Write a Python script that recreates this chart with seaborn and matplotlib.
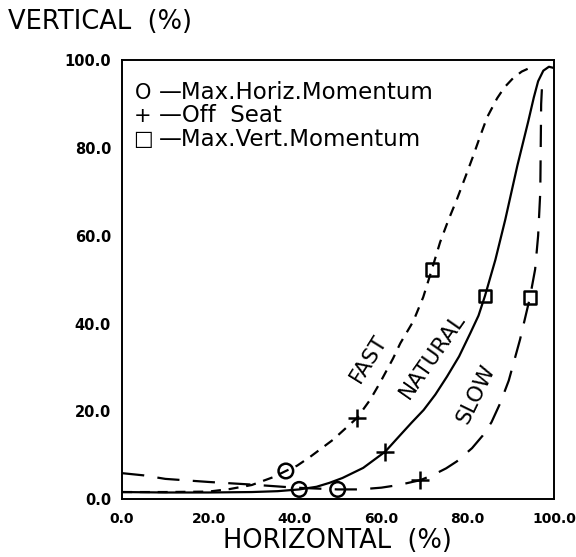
import matplotlib
matplotlib.use("Agg")
import matplotlib.pyplot as plt
import seaborn as sns

# ---- data ----
fast_x = [0, 10, 20, 25, 30, 35, 37.9, 40.5, 43.5, 48.8, 54.4, 57.4, 59.7, 62.7, 64.4, 67.4, 69.7, 71.7, 73.6, 75.5, 77.5, 79.5, 81.2, 83, 84.5, 86.8, 88.5, 90.5, 92.5, 94.5]
fast_y = [1.6, 1.6, 1.7, 2.3, 3.2, 5.0, 6.4, 7.6, 9.6, 13.5, 18.5, 22.6, 26.5, 32.0, 35.5, 40.5, 46.0, 52.3, 58.5, 63.5, 68.3, 73.5, 78, 83, 87, 91.3, 93.8, 95.9, 97.4, 98.3]

natural_x = [0, 10, 20, 30, 36, 41, 45, 48, 51, 55.8, 60.9, 64.4, 67, 69.8, 72.5, 75.2, 78, 80.6, 82.5, 84, 86.4, 88.7, 91.5, 94, 95.3, 96.3, 97.5, 98.8, 100]
natural_y = [1.6, 1.5, 1.5, 1.6, 1.8, 2.2, 2.8, 3.7, 4.8, 7.1, 10.8, 14.6, 17.4, 20.3, 23.8, 27.9, 32.5, 37.8, 41.8, 46.3, 54.5, 63.7, 76, 86, 91.5, 95.2, 97.6, 98.5, 98.2]

slow_x = [0, 5, 10, 20, 30, 40, 49.9, 55, 60, 64, 69, 72, 75, 77.5, 81, 83.5, 85.5, 87.5, 89.5, 92.1, 94.4, 95.6, 96.3, 96.8, 96.9, 97.0, 97.3]
slow_y = [5.9, 5.4, 4.6, 3.9, 3.3, 2.6, 2.2, 2.2, 2.6, 3.2, 4.3, 5.5, 7.0, 8.6, 11.6, 14.5, 17.5, 21.8, 27, 36.3, 45.9, 52.3, 60, 70, 80, 90, 96]

circle_x = [37.9, 41, 49.9]
circle_y = [6.4, 2.2, 2.2]
plus_x = [54.4, 60.9, 69]
plus_y = [18.5, 10.8, 4.3]
square_x = [71.7, 84, 94.4]
square_y = [52.3, 46.3, 45.9]

tick_vals = [0, 20, 40, 60, 80, 100]
tick_labels = ["0.0", "20.0", "40.0", "60.0", "80.0", "100.0"]

legend_symbols = ["O", "+", "\u25a1"]
legend_texts = ["\u2014Max.Horiz.Momentum", "\u2014Off  Seat", "\u2014Max.Vert.Momentum"]

curve_labels = ["FAST", "NATURAL", "SLOW"]
curve_label_pos = [(57.0, 31.9, 58), (71.9, 32.6, 55), (82.0, 24.0, 64)]

# ---- figure ----
sns.set_theme(style="white")
plt.rcParams['font.family'] = ['DejaVu Sans']

fig = plt.figure(figsize=(5.76, 5.57), dpi=100)
ax = fig.add_axes([0.212, 0.104, 0.750, 0.788])

lw = 1.6
sns.lineplot(x=fast_x, y=fast_y, ax=ax, sort=False, estimator=None, color="black",
             linewidth=lw, linestyle=(0, (4.5, 3.5)))
sns.lineplot(x=natural_x, y=natural_y, ax=ax, sort=False, estimator=None, color="black",
             linewidth=lw)
sns.lineplot(x=slow_x, y=slow_y, ax=ax, sort=False, estimator=None, color="black",
             linewidth=lw, linestyle=(0, (10, 6)))

sns.scatterplot(x=circle_x, y=circle_y, ax=ax, marker="o", s=110, facecolor="none",
                edgecolor="black", linewidth=1.8, zorder=5)
sns.scatterplot(x=plus_x, y=plus_y, ax=ax, marker="+", s=150, color="black",
                linewidth=1.8, zorder=5)
sns.scatterplot(x=square_x, y=square_y, ax=ax, marker="s", s=80, facecolor="none",
                edgecolor="black", linewidth=1.8, zorder=5)

ax.set_xlim(0, 100)
ax.set_ylim(0, 100)
ax.set_xticks(tick_vals)
ax.set_xticklabels(tick_labels, fontsize=10, fontweight="bold")
ax.set_yticks(tick_vals)
ax.set_yticklabels(tick_labels, fontsize=10.5, fontweight="bold")
ax.tick_params(axis="both", direction="out", length=6, width=1.2, color="black",
               pad=2, labelcolor="black")
ax.tick_params(axis="x", pad=3)
ax.set_xlabel("")
ax.set_ylabel("")
for sp in ax.spines.values():
    sp.set_color("black")
    sp.set_linewidth(1.4)
    sp.set_visible(True)

# legend-like text block
ly = [92.6, 87.3, 82.0]
for sym, txt, yy in zip(legend_symbols, legend_texts, ly):
    ax.text(4.8, yy, sym, fontsize=15, ha="center", va="center", color="black")
    ax.text(8.6, yy, txt, fontsize=16.5, ha="left", va="center", color="black")

for lab, (xx, yy, rot) in zip(curve_labels, curve_label_pos):
    ax.text(xx, yy, lab, fontsize=15.5, rotation=rot, ha="center", va="center",
            rotation_mode="anchor", color="black")

fig.text(8 / 576, 1 - 22 / 557, "VERTICAL  (%)", fontsize=18.5, ha="left", va="center",
         color="black")
fig.text(337 / 576, 1 - 541 / 557, "HORIZONTAL  (%)", fontsize=18.5, ha="center",
         va="center", color="black")

fig.savefig("out.png", dpi=100, facecolor="white")
